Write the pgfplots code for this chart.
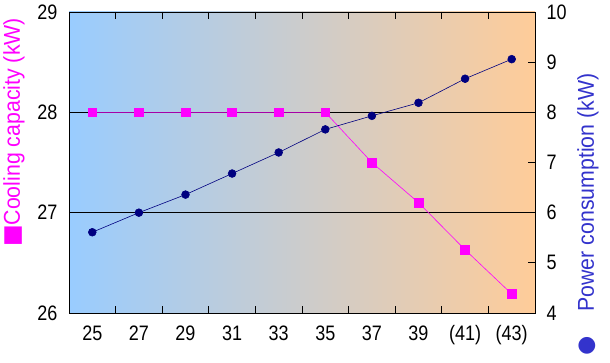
\documentclass[border=0pt]{standalone}
\usepackage{pgfplots}
\pgfplotsset{compat=1.18}
\usepackage{fontspec}
\setmainfont{Liberation Sans}
\newfontfamily\narrowfont[FakeStretch=0.86]{Liberation Sans}
\newfontfamily\labelfont[FakeStretch=0.93]{Liberation Sans}
\newfontfamily\dejavu{DejaVu Sans}
\definecolor{bgleft}{HTML}{99CCFF}
\definecolor{bgright}{HTML}{FFCC99}
\definecolor{navy}{HTML}{000080}
\definecolor{powerblue}{HTML}{3333CC}
\definecolor{mag}{HTML}{FF00FF}
\begin{document}
\begin{tikzpicture}
\useasboundingbox (0,0) rectangle (610bp,363bp);
\begin{axis}[
  at={(69bp,50bp)}, anchor=south west,
  scale only axis, width=466bp, height=301bp,
  xmin=-0.5, xmax=9.5, ymin=26, ymax=29,
  axis background/.style={left color=bgleft, right color=bgright},
  axis line style={black, line width=0.8pt},
  xtick={0,...,9},
  xticklabels={25,27,29,31,33,35,37,39,(41),(43)},
  minor xtick={0.5,1.5,...,8.5},
  ytick={26,27,28,29},
  tick align=inside,
  major tick length=0pt,
  minor tick length=7bp,
  minor tick style={black, line width=0.8pt},
  ymajorgrids, grid style={black, line width=0.8pt},
  tick label style={font=\narrowfont\fontsize{21}{24}\selectfont},
  /pgf/number format/assume math mode=true,
  yticklabel style={xshift=-8bp},
  xticklabel style={yshift=-9bp},
]
\addplot[mag, line width=0.6pt, mark=square*, mark size=4.4bp, mark options={solid, fill=mag, draw=mag}]
  coordinates {(0,28) (1,28) (2,28) (3,28) (4,28) (5,28) (6,27.5) (7,27.1) (8,26.63) (9,26.19)};
\end{axis}
\begin{axis}[
  at={(69bp,50bp)}, anchor=south west,
  scale only axis, width=466bp, height=301bp,
  xmin=-0.5, xmax=9.5, ymin=4, ymax=10,
  axis x line=none,
  axis y line*=right,
  axis line style={black, line width=0.8pt},
  ytick={4,...,10},
  tick align=inside,
  major tick length=7bp,
  major tick style={black, line width=0.8pt},
  tick label style={font=\narrowfont\fontsize{21}{24}\selectfont},
  /pgf/number format/assume math mode=true,
  yticklabel style={xshift=8bp},
]
\addplot[navy, line width=0.6pt, mark=*, mark size=3.9bp, mark options={solid, fill=navy, draw=navy}]
  coordinates {(0,5.61) (1,6.0) (2,6.36) (3,6.78) (4,7.2) (5,7.66) (6,7.93) (7,8.19) (8,8.67) (9,9.06)};
\end{axis}
\node[rotate=90, text=mag, font=\labelfont\fontsize{23}{26}\selectfont, inner sep=0pt] at (14bp,230.5bp) {{\dejavu ■}Cooling capacity (kW)};
\node[rotate=90, text=powerblue, font=\labelfont\fontsize{23}{26}\selectfont, inner sep=0pt] at (588bp,170.5bp) {Power consumption (kW)};
\node[text=powerblue, font=\dejavu\fontsize{22}{24}\selectfont, inner sep=0pt] at (587bp,17.5bp) {●};
\end{tikzpicture}
\end{document}
